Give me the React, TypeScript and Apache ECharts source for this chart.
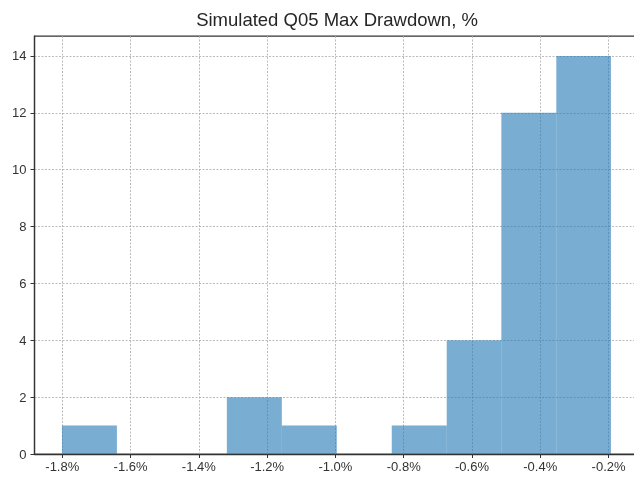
import React, { useEffect, useRef } from "react";
import * as echarts from "echarts";

const binEdges = [-1.801, -1.640, -1.479, -1.318, -1.157, -0.996, -0.835, -0.674, -0.514, -0.353, -0.193];
const counts = [1, 0, 0, 2, 1, 0, 1, 4, 12, 14];
const xTicks = [-1.8, -1.6, -1.4, -1.2, -1.0, -0.8, -0.6, -0.4, -0.2];
const yTicks = [0, 2, 4, 6, 8, 10, 12, 14];
const titleText = "Simulated Q05 Max Drawdown, %";

export default function App() {
  const ref = useRef<HTMLDivElement>(null);
  useEffect(() => {
    if (!ref.current) return;
    const chart = echarts.init(ref.current, null, { renderer: "svg" });
    const data = counts.map((c, i) => [binEdges[i], binEdges[i + 1], c]);
    const font = "'Liberation Sans', Arial, sans-serif";
    chart.setOption({
      animation: false,
      graphic: [
        {
          type: "text",
          x: 337,
          y: 19,
          style: {
            text: titleText,
            font: `18.5px ${font}`,
            fill: "#262626",
            textAlign: "center",
            textVerticalAlign: "middle",
          },
        },
      ],
      grid: {
        left: 34.5,
        right: 1.6,
        top: 36,
        bottom: 24,
        show: true,
        borderColor: "#333",
        borderWidth: 1.25,
        backgroundColor: "transparent",
        containLabel: false,
      },
      xAxis: {
        type: "value",
        min: -1.8814,
        max: -0.1126,
        axisLine: { show: true, lineStyle: { color: "#333", width: 1.25 } },
        axisTick: {
          show: true,
          length: 4,
          customValues: xTicks,
          lineStyle: { color: "#333", width: 1 },
        },
        axisLabel: {
          customValues: xTicks,
          formatter: (v: number) => `${v.toFixed(1)}%`,
          color: "#333",
          fontSize: 13,
          fontFamily: font,
          margin: 6,
        },
        splitLine: {
          show: true,
          lineStyle: { color: "#aaa", type: [2, 1.5], width: 0.8 },
        },
      },
      yAxis: {
        type: "value",
        min: 0,
        max: 14.7,
        axisLine: { show: true, lineStyle: { color: "#333", width: 1.25 } },
        axisTick: {
          show: true,
          length: 4,
          customValues: yTicks,
          lineStyle: { color: "#333", width: 1 },
        },
        axisLabel: {
          customValues: yTicks,
          color: "#333",
          fontSize: 13,
          fontFamily: font,
          margin: 8,
        },
        splitLine: {
          show: true,
          lineStyle: { color: "#aaa", type: [2, 1.5], width: 0.8 },
        },
      },
      series: [
        {
          type: "custom",
          data,
          encode: { x: [0, 1], y: 2 },
          renderItem: (params: any, api: any) => {
            const s = api.value(0);
            const e = api.value(1);
            const c = api.value(2);
            if (!c) return null;
            const p0 = api.coord([s, c]);
            const p1 = api.coord([e, 0]);
            return {
              type: "rect",
              shape: { x: p0[0], y: p0[1], width: p1[0] - p0[0], height: p1[1] - p0[1] },
              style: { fill: "rgba(31,119,180,0.6)" },
            };
          },
        },
      ],
    });
    return () => chart.dispose();
  }, []);
  return (
    <div
      ref={ref}
      style={{ position: "fixed", left: 0, top: 0, width: 640, height: 478 }}
    />
  );
}
